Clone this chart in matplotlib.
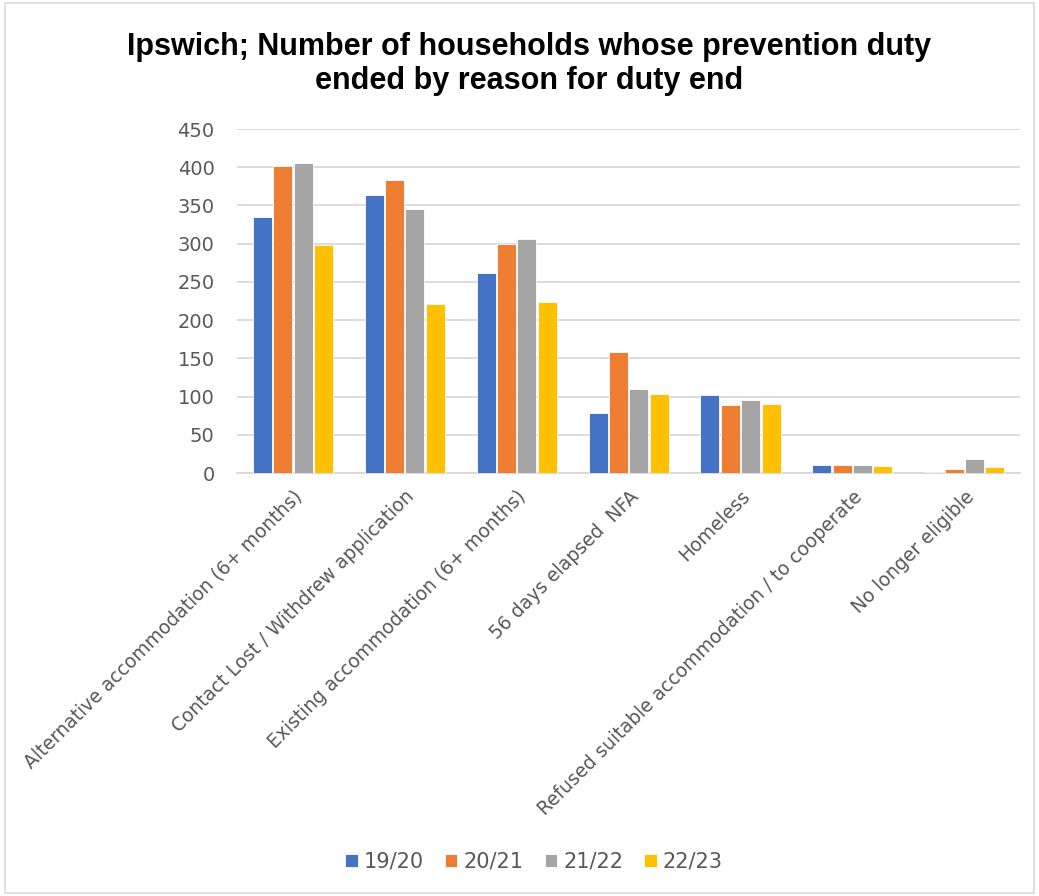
import matplotlib.pyplot as plt
import numpy as np
from matplotlib.patches import Rectangle

# Donnees
categories = ['Alternative accommodation (6+ months)',
              'Contact Lost / Withdrew application',
              'Existing accommodation (6+ months)',
              '56 days elapsed  NFA',
              'Homeless',
              'Refused suitable accommodation / to cooperate',
              'No longer eligible']
annees = ['19/20', '20/21', '21/22', '22/23']
v_19_20 = [335, 364, 262, 78, 102, 10, 2]
v_20_21 = [401, 383, 300, 159, 89, 10, 5]
v_21_22 = [406, 345, 306, 110, 96, 11, 18]
v_22_23 = [298, 221, 224, 104, 91, 9, 8]
couleurs = ['#4472C4', '#ED7D31', '#A5A5A5', '#FFC000']

series = [v_19_20, v_20_21, v_21_22, v_22_23]

fig = plt.figure(figsize=(10.39, 8.96), dpi=100)
ax = fig.add_axes([0.228, 0.472, 0.754, 0.384])

x = np.arange(len(categories))
largeur = 0.17
for i, (vals, lab, col) in enumerate(zip(series, annees, couleurs)):
    ax.bar(x + (i - 1.5) * (largeur + 0.012), vals, largeur, color=col,
           label=lab, edgecolor='white', linewidth=0.6, zorder=3)

ax.set_xlim(-0.5, len(categories) - 0.5)
ax.set_ylim(0, 450)
ax.set_yticks(np.arange(0, 451, 50))
ax.yaxis.grid(True, color='#D9D9D9', linewidth=1.3, zorder=0)
for s in ['top', 'right', 'left']:
    ax.spines[s].set_visible(False)
ax.spines['bottom'].set_color('#D9D9D9')
ax.spines['bottom'].set_linewidth(1.3)
ax.tick_params(axis='both', length=0, colors='#595959', labelsize=14)
ax.tick_params(axis='y', pad=16)
ax.set_xticks(x)
ax.set_xticklabels(categories, rotation=45, ha='right', rotation_mode='anchor',
                   fontsize=13.5, color='#595959')
ax.tick_params(axis='x', pad=10)

fig.text(0.509, 0.929, 'Ipswich; Number of households whose prevention duty\nended by reason for duty end',
         ha='center', va='center', fontsize=22, fontweight='bold',
         family='Liberation Sans', linespacing=1.17)

fig.legend(loc='center', bbox_to_anchor=(0.514, 0.038), ncol=4, frameon=False,
           fontsize=15, handlelength=0.6, handleheight=0.6, columnspacing=1.0,
           handletextpad=0.3, labelcolor='#595959')

# cadre autour du graphique
fig.add_artist(Rectangle((0.005, 0.003), 0.99, 0.994, transform=fig.transFigure,
                         fill=False, edgecolor='#D9D9D9', linewidth=1.2))

plt.savefig('out.png', dpi=100)
